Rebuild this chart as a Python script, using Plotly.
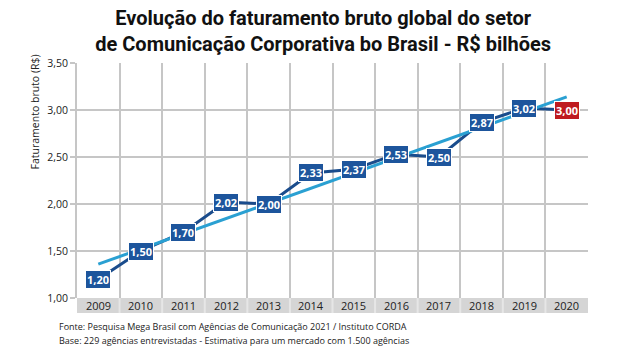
import plotly.graph_objects as go

years = [2009, 2010, 2011, 2012, 2013, 2014, 2015, 2016, 2017, 2018, 2019, 2020]
values = [1.20, 1.50, 1.70, 2.02, 2.00, 2.33, 2.37, 2.53, 2.50, 2.87, 3.02, 3.00]
label_colors = ["#1d559c"] * 11 + ["#bf1b1f"]
trend_years = [2009, 2020]
trend_values = [1.36, 3.14]
y_ticks = [1.0, 1.5, 2.0, 2.5, 3.0, 3.5]

title_lines = ["Evolução do faturamento bruto global do setor",
               "de Comunicação Corporativa bo Brasil - R$ bilhões"]
y_title = "Faturamento bruto (R$)"
notes = ["Fonte: Pesquisa Mega Brasil com Agências de Comunicação 2021 / Instituto CORDA",
         "Base: 229 agências entrevistadas - Estimativa para um mercado com 1.500 agências"]

BODY = "Open Sans, Noto Sans, sans-serif"
TITLE_FONT = "Liberation Sans Narrow, Arial Narrow, Roboto, sans-serif"
GRID = "#c6c6c6"

fig = go.Figure()
fig.add_trace(go.Scatter(x=years, y=values, mode="lines",
                         line=dict(color="#1a4c8c", width=3), hoverinfo="skip"))
fig.add_trace(go.Scatter(x=trend_years, y=trend_values, mode="lines",
                         line=dict(color="#2aa0d2", width=3), hoverinfo="skip"))

annotations = []
for yr, v, c in zip(years, values, label_colors):
    annotations.append(dict(x=yr, y=v, xref="x", yref="y",
                            text="<b>" + f"{v:.2f}".replace(".", ",") + "</b>",
                            showarrow=False, bgcolor=c, bordercolor="white",
                            borderwidth=1, borderpad=1,
                            font=dict(family=BODY, size=11, color="white")))

# category band below the plot
shapes = [dict(type="rect", xref="x", yref="paper", x0=years[0] - 0.5, x1=years[-1] + 0.5,
               y0=-0.064, y1=0, fillcolor="#d5d5d5", line=dict(width=0), layer="below")]
for yr in years[:-1]:
    shapes.append(dict(type="line", xref="x", yref="paper", x0=yr + 0.5, x1=yr + 0.5,
                       y0=-0.064, y1=0, line=dict(color="#e6e6e6", width=2)))
for yr in years:
    annotations.append(dict(x=yr, y=-0.032, xref="x", yref="paper", text=str(yr),
                            showarrow=False, yanchor="middle",
                            font=dict(family=BODY, size=11, color="#222")))

annotations.append(dict(x=-0.082, y=0.79, xref="paper", yref="paper", text=y_title,
                        textangle=-90, showarrow=False, xanchor="center", yanchor="middle",
                        font=dict(family=BODY, size=10.5, color="#222")))
for i, n in enumerate(notes):
    annotations.append(dict(x=-0.039, y=-0.123 - 0.056 * i, xref="paper", yref="paper",
                            text=n, showarrow=False, xanchor="left", yanchor="middle",
                            font=dict(family=BODY, size=9, color="#222")))

fig.update_layout(
    width=640, height=353,
    margin=dict(l=77, r=52, t=63, b=55),
    paper_bgcolor="white", plot_bgcolor="white",
    separators=",.",
    showlegend=False,
    title=dict(text="<b>" + "<br>".join(title_lines) + "</b>",
               x=0.505, xanchor="center", y=0.93, yanchor="top", xref="container", yref="container",
               font=dict(family=TITLE_FONT, size=20, color="#111")),
    xaxis=dict(range=[years[0] - 0.5, years[-1] + 0.5],
               tickvals=[yr + 0.5 for yr in years[:-1]], showticklabels=False,
               showgrid=True, gridcolor=GRID, gridwidth=2, zeroline=False,
               showline=False, ticks=""),
    yaxis=dict(range=[y_ticks[0], y_ticks[-1]], tickvals=y_ticks, tickformat=".2f",
               showgrid=True, gridcolor=GRID, gridwidth=2, zeroline=False,
               showline=True, linecolor=GRID, linewidth=2,
               ticks="outside", ticklen=5, tickcolor=GRID, tickwidth=2,
               tickfont=dict(family=BODY, size=10.5, color="#222")),
    shapes=shapes,
    annotations=annotations,
)

fig.write_html("out.html")
